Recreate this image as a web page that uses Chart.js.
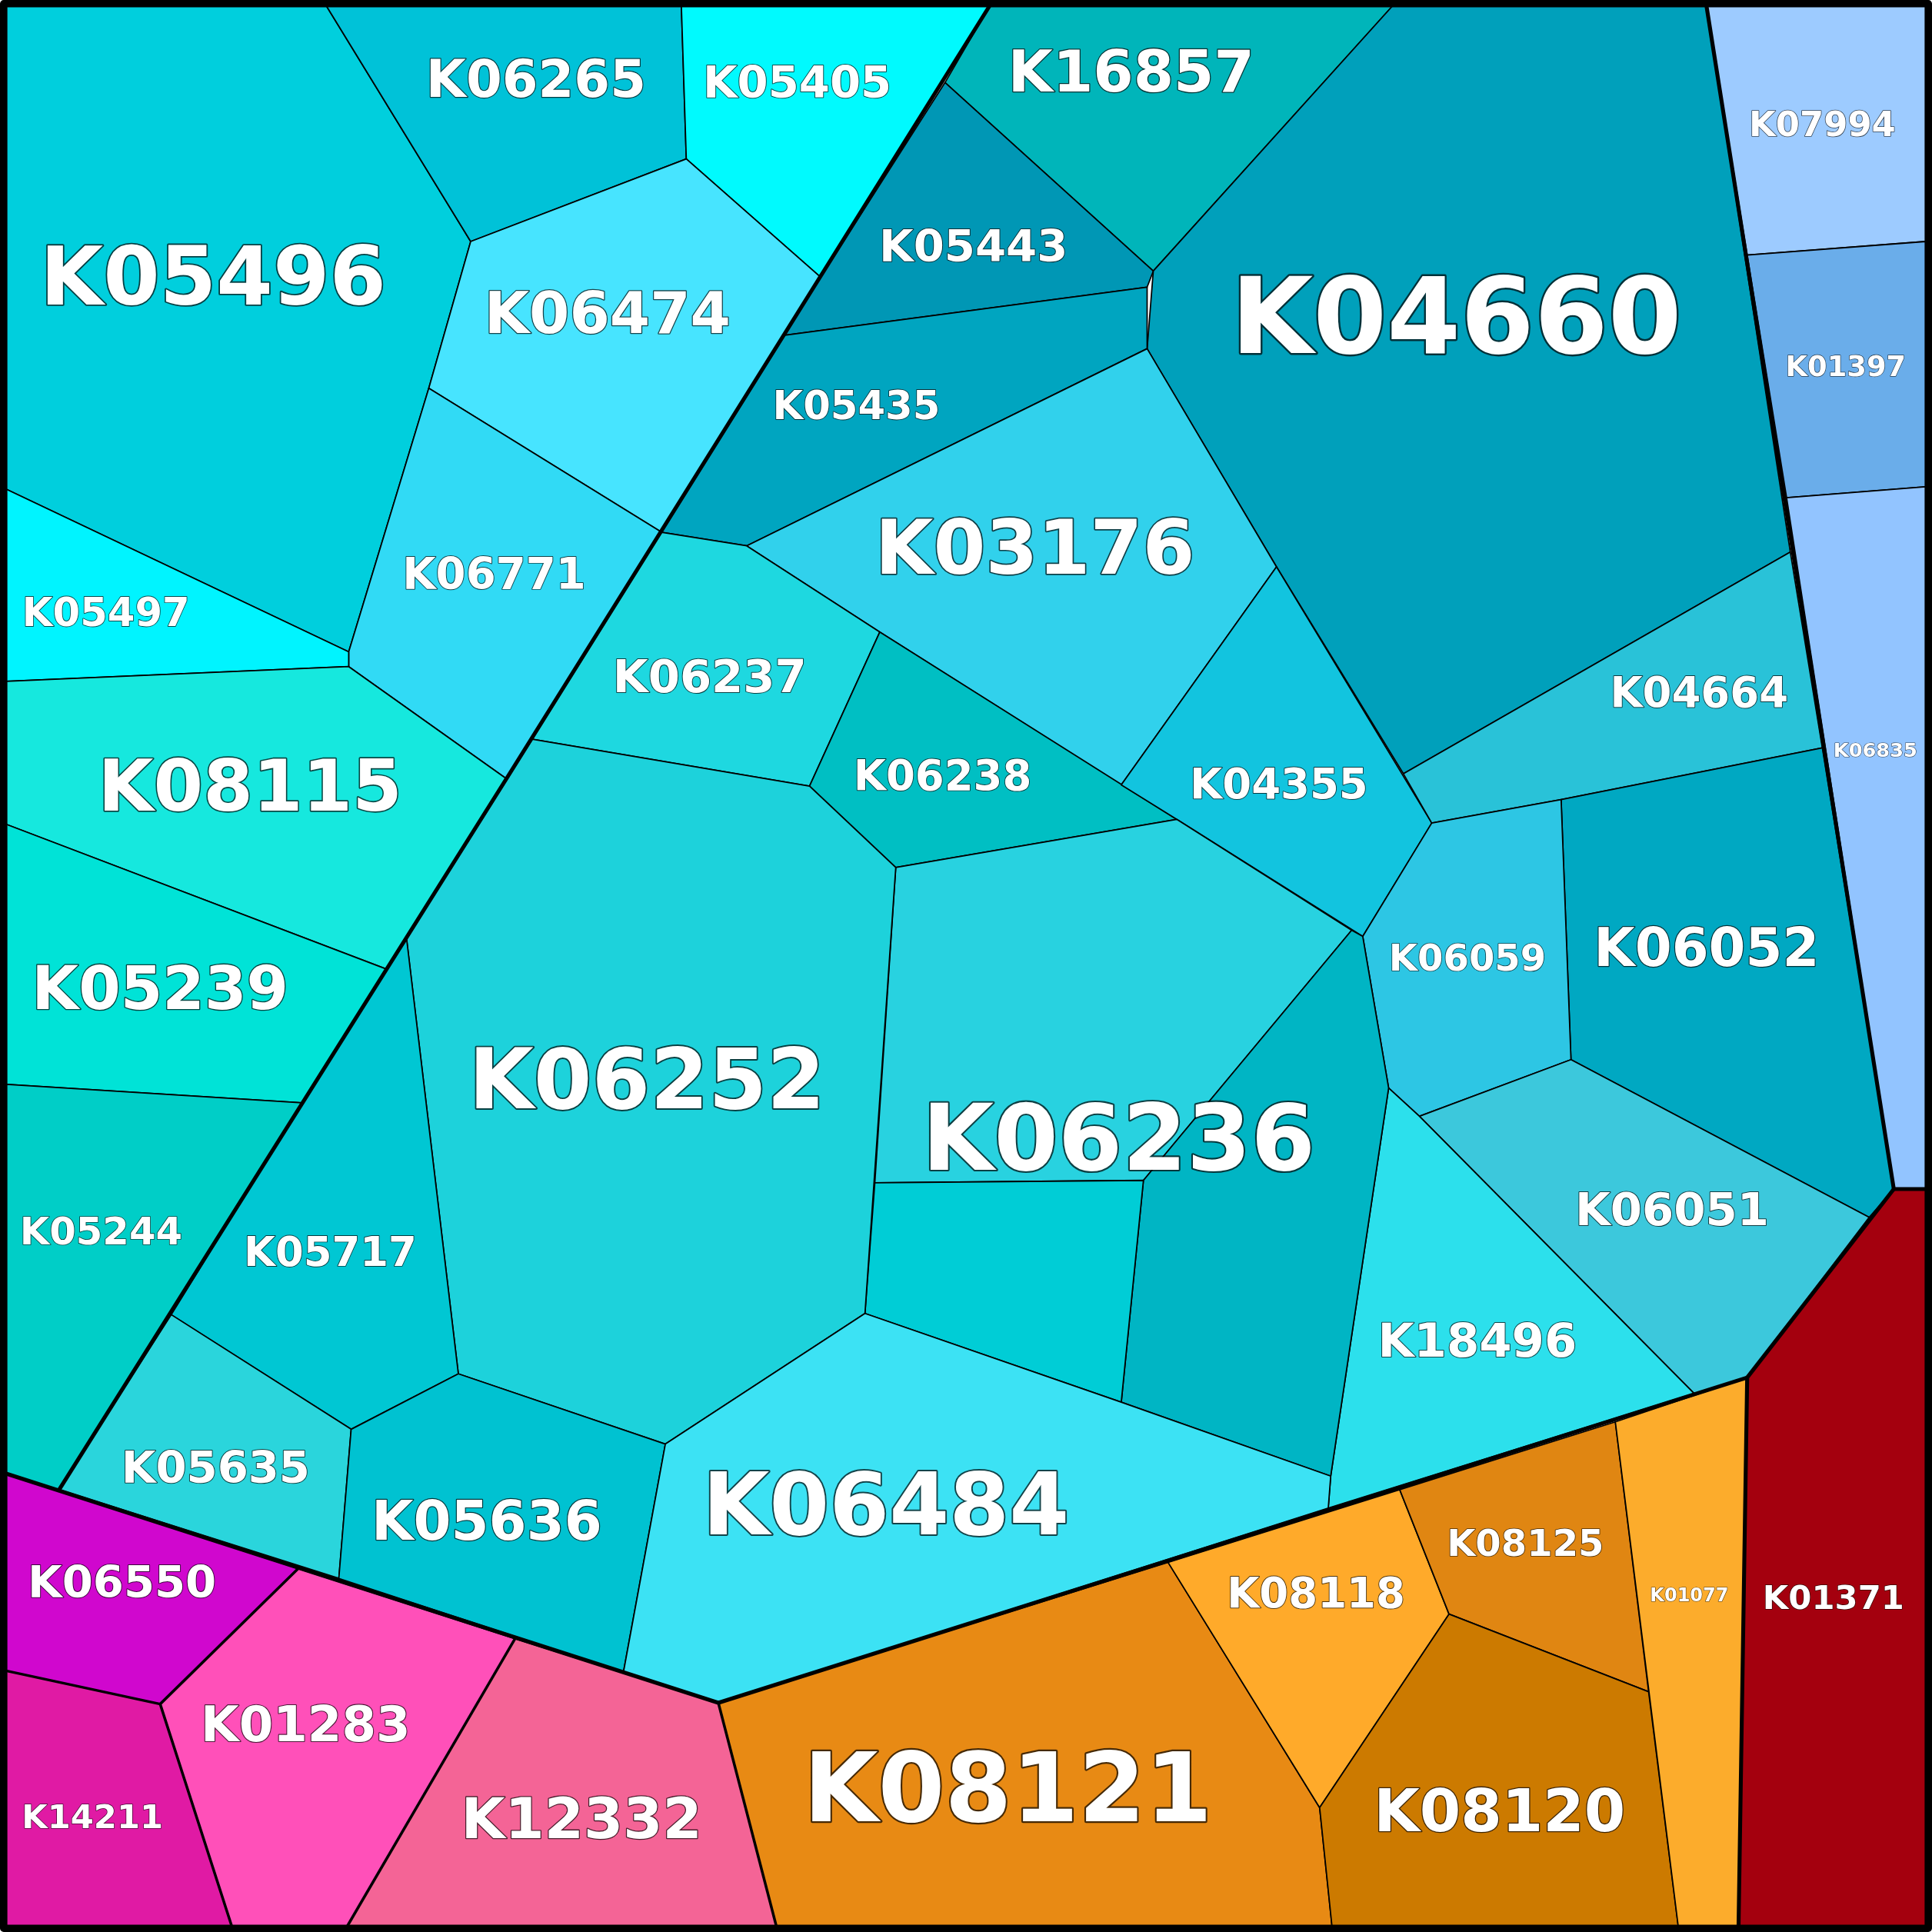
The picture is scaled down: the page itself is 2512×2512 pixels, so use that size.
<!DOCTYPE html>
<html><head><meta charset="utf-8">
<script src="https://cdn.jsdelivr.net/npm/chart.js@4/dist/chart.umd.min.js"></script>
<style>html,body{margin:0;padding:0;background:#fff}#w{width:2512px;height:2512px}</style>
</head><body><div id="w"><canvas id="c"></canvas></div>
<script>
const names = ["K05496","K06265","K05405","K16857","K05443","K04660","K06474","K05435","K06771","K05497","K03176","K06237","K08115","K05239","K05244","K06238","K04355","K04664","K07994","K01397","K06835","K06052","K06059","K06051","K18496","K06236a","K06236b","K06236c","K06252","K05717","K05635","K05636","K06484","K08121","K08118","K08125","K08120","K01077","K01371","K06550","K01283","K14211","K12332"];
const colors = ["#00CFDD","#00C2D8","#00FAFE","#00B5BA","#0097B5","#00A0BB","#47E4FF","#00A5C0","#31DAF5","#00F4FF","#31D1EC","#1ED8E0","#16E8DE","#00E3D7","#00CEC7","#00BFC3","#12C4DF","#29C2D8","#9DCBFF","#6AADEA","#92C4FF","#00A8C2","#2DC6E4","#3CC8DC","#2CE0EC","#28D2E0","#00B5C4","#00CDD6","#1DD2DB","#00C7D3","#2AD5DC","#00C2D1","#3CE2F4","#E88A14","#FFAA2A","#E08612","#CC7A00","#FCAC2C","#A4000E","#D007CE","#FF50B9","#E01AA4","#F46496"];
const cells = [
[[5,5],[265,5],[382,196],[348,315],[283,529],[5,397]],
[[265,5],[553,5],[557,129],[382,196]],
[[553,5],[803,5],[666,225],[557,129]],
[[803,5],[1130,5],[936,220],[767,67]],
[[767,67],[936,220],[931,233],[637,272],[666,225]],
[[1130,5],[1385,5],[1453,448],[1139,628],[1036,460],[931,283],[936,220]],
[[382,196],[557,129],[666,225],[637,272],[537,432],[348,315]],
[[637,272],[931,233],[931,283],[606,443],[537,432]],
[[348,315],[537,432],[411,632],[283,541],[283,529]],
[[5,397],[283,529],[283,541],[5,553]],
[[606,443],[931,283],[1036,460],[910,637],[714,513]],
[[537,432],[606,443],[714,513],[657,638],[432,600]],
[[5,553],[283,541],[411,632],[315,787],[5,669]],
[[5,669],[315,787],[245,895],[5,880]],
[[5,880],[245,895],[139,1067],[48,1209],[5,1196]],
[[714,513],[955,665],[727,704],[657,638]],
[[1036,460],[1162,668],[1106,760],[955,665],[910,637]],
[[1453,448],[1479,607],[1267,649],[1162,668],[1139,628]],
[[1385,5],[1563,5],[1563,196],[1418,207]],
[[1418,207],[1563,196],[1563,395],[1450,404]],
[[1450,404],[1563,395],[1563,965],[1537,965]],
[[1267,649],[1479,607],[1537,965],[1517,988],[1275,860]],
[[1162,668],[1267,649],[1275,860],[1152,906],[1127,883],[1106,760]],
[[1275,860],[1517,988],[1418,1118],[1375,1131],[1152,906]],
[[1127,883],[1152,906],[1375,1131],[1078,1224],[1080,1198]],
[[727,704],[955,665],[1097,755],[928,958],[710,960]],
[[1097,755],[1106,760],[1127,883],[1080,1198],[910,1138],[928,958]],
[[710,960],[928,958],[910,1138],[702,1066]],
[[432,600],[657,638],[727,704],[702,1066],[540,1172],[372,1115],[330,762]],
[[330,762],[372,1115],[285,1160],[139,1067],[245,895]],
[[139,1067],[285,1160],[275,1281],[48,1209]],
[[285,1160],[372,1115],[540,1172],[506,1357],[275,1281]],
[[540,1172],[702,1066],[910,1138],[1080,1198],[1078,1224],[583,1382],[506,1357]],
[[583,1382],[948,1268],[1071,1467],[1081,1563],[630,1563]],
[[948,1268],[1136,1209],[1176,1310],[1071,1467]],
[[1136,1209],[1311,1154],[1338,1373],[1176,1310]],
[[1176,1310],[1338,1373],[1362,1563],[1081,1563],[1071,1467]],
[[1311,1154],[1418,1118],[1411,1563],[1362,1563]],
[[1537,965],[1563,965],[1563,1563],[1411,1563],[1418,1118]],
[[5,1196],[242,1273],[130,1383],[5,1356]],
[[242,1273],[418,1330],[282,1563],[188,1563],[130,1383]],
[[5,1356],[130,1383],[188,1563],[5,1563]],
[[418,1330],[583,1382],[630,1563],[282,1563]]
];
const groupLines = [
[[1385,5],[1537,965],[1563,965]],
[[1537,965],[1418,1118],[1411,1563]],
[[1418,1118],[583,1382],[5,1196]],
[[583,1382],[630,1563]],
[[803,5],[411,632],[48,1209]],
[[242,1273],[130,1383],[188,1563]],[[5,1356],[130,1383]],[[418,1330],[282,1563]]
];
const labels = ["K05496","K06265","K05405","K16857","K05443","K04660","K06474","K05435","K06771","K05497","K03176","K06237","K08115","K05239","K05244","K06238","K04355","K04664","K07994","K01397","K06835","K06052","K06059","K06051","K18496","K06236","K06252","K05717","K05635","K05636","K06484","K08121","K08118","K08125","K08120","K01077","K01371","K06550","K01283","K14211","K12332"];
const labelPos = [[173,230],[435,68],[647,70],[918,62],[790,203],[1182,264],[493,258],[695,332],[401,469],[86,500],[840,450],[576,552],[203,643],[130,806],[82,1002],[765,632],[1038,639],[1379,565],[1479,103],[1498,299],[1522,610],[1385,773],[1191,780],[1357,985],[1199,1091],[908,930],[525,882],[268,1019],[175,1194],[395,1238],[719,1227],[818,1458],[1068,1296],[1238,1255],[1217,1474],[1371,1296],[1488,1299],[99,1287],[248,1403],[75,1477],[472,1480]];
const labelSize = [66,42,36,47,36,86,47,32,35,32,61,37,58,49,31,34,34,34,28,23,16,43,30,37,38,75,68,33,36,44,70,78,34,30,48,15,27,36,40,27,46];

new Chart(document.getElementById('c'), {
  type: 'scatter',
  data: { datasets: cells.map((p,i)=>({label:names[i], data:p.map(v=>({x:v[0],y:v[1]})), pointRadius:0, showLine:false})) },
  options: {
    responsive:true, maintainAspectRatio:false, animation:false, devicePixelRatio:1,
    layout:{padding:0},
    plugins:{legend:{display:false},tooltip:{enabled:false}},
    scales:{x:{type:'linear',min:0,max:1568,display:false},y:{type:'linear',min:0,max:1568,reverse:true,display:false}}
  },
  plugins:[{
    id:'voronoi',
    afterDatasetsDraw(chart){
      const ctx=chart.ctx, X=chart.scales.x, Y=chart.scales.y, k=X.getPixelForValue(1)-X.getPixelForValue(0);
      const path=(pts,close)=>{ctx.beginPath();pts.forEach((v,i)=>{const px=X.getPixelForValue(v[0]),py=Y.getPixelForValue(v[1]);i?ctx.lineTo(px,py):ctx.moveTo(px,py);});if(close)ctx.closePath();};
      ctx.save(); ctx.lineJoin='round';
      cells.forEach((p,i)=>{path(p,true);ctx.fillStyle=colors[i];ctx.fill();ctx.strokeStyle='#000';ctx.lineWidth=1.1*k;ctx.stroke();});
      groupLines.forEach(l=>{path(l,false);ctx.lineWidth=(l.length>2&&l[0][0]!==242?3.2:2.2)*k;ctx.stroke();});
      ctx.lineWidth=6*k; ctx.strokeRect(X.getPixelForValue(3),Y.getPixelForValue(3),X.getPixelForValue(1565)-X.getPixelForValue(3),Y.getPixelForValue(1565)-Y.getPixelForValue(3));
      ctx.textAlign='center'; ctx.textBaseline='middle';
      labels.forEach((t,i)=>{const s=labelSize[i]*k;ctx.font='bold '+s+'px "DejaVu Sans"';const px=X.getPixelForValue(labelPos[i][0]),py=Y.getPixelForValue(labelPos[i][1]);ctx.lineWidth=Math.max(1.2,s*0.035);ctx.strokeStyle='rgba(0,0,0,0.7)';ctx.strokeText(t,px,py);ctx.fillStyle='#fff';ctx.fillText(t,px,py);});
      ctx.restore();
    }
  }]
});
</script></body></html>
